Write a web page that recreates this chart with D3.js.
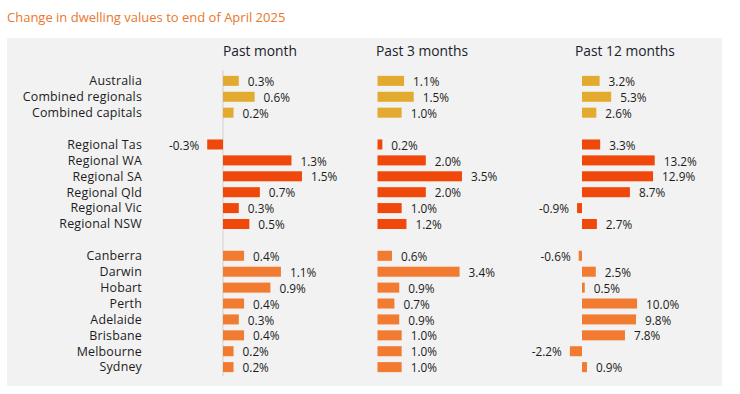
<!DOCTYPE html>
<html>
<head>
<meta charset="utf-8">
<script src="https://cdn.jsdelivr.net/npm/d3@7"></script>
<style>
  body { margin: 0; background: #fff; }
  svg text { font-family: "Open Sans", "Noto Sans", sans-serif; }
</style>
</head>
<body>
<svg id="chart" width="740" height="394"></svg>
<script>
// rows, null = blank spacer between groups
var categories = ["Australia", "Combined regionals", "Combined capitals", null,
  "Regional Tas", "Regional WA", "Regional SA", "Regional Qld", "Regional Vic", "Regional NSW", null,
  "Canberra", "Darwin", "Hobart", "Perth", "Adelaide", "Brisbane", "Melbourne", "Sydney"];
var groups = ["summary", "summary", "summary", null,
  "regional", "regional", "regional", "regional", "regional", "regional", null,
  "capital", "capital", "capital", "capital", "capital", "capital", "capital", "capital"];

var pastMonth = [0.3, 0.6, 0.2, null, -0.3, 1.3, 1.5, 0.7, 0.3, 0.5, null,
  0.4, 1.1, 0.9, 0.4, 0.3, 0.4, 0.2, 0.2];
var past3Months = [1.1, 1.5, 1.0, null, 0.2, 2.0, 3.5, 2.0, 1.0, 1.2, null,
  0.6, 3.4, 0.9, 0.7, 0.9, 1.0, 1.0, 1.0];
var past12Months = [3.2, 5.3, 2.6, null, 3.3, 13.2, 12.9, 8.7, -0.9, 2.7, null,
  -0.6, 2.5, 0.5, 10.0, 9.8, 7.8, -2.2, 0.9];

var panelTitles = ["Past month", "Past 3 months", "Past 12 months"];

document.addEventListener("DOMContentLoaded", function () {

  var svg = d3.select("#chart");
  var colour = { summary: "#e2ab2f", regional: "#f0480b", capital: "#f07b31" };

  var yScale = d3.scaleBand()
    .domain(d3.range(categories.length))
    .range([73, 375])
    .paddingInner(0.37)
    .paddingOuter(0.18);

  // title
  svg.append("text")
    .attr("x", 7)
    .attr("y", 22)
    .style("font-size", "13px")
    .style("fill", "#e9772d")
    .text("Change in dwelling values to end of April 2025");

  // panel background
  svg.append("rect")
    .attr("x", 7)
    .attr("y", 38)
    .attr("width", 715)
    .attr("height", 348)
    .style("fill", "#f2f2f2");

  // category labels
  svg.append("g")
    .selectAll("text")
    .data(categories)
    .enter()
    .filter(function (d) { return d !== null; })
    .append("text")
    .attr("x", 142)
    .attr("y", function (d) { return yScale(categories.indexOf(d)) + yScale.bandwidth() / 2; })
    .attr("dy", "0.35em")
    .attr("text-anchor", "end")
    .style("font-size", "12.4px")
    .style("letter-spacing", "0.2px")
    .style("fill", "#1c1c1c")
    .text(function (d) { return d; });

  var panels = [
    { title: panelTitles[0], values: pastMonth, titleX: 223,
      x: d3.scaleLinear().domain([0, 1.5]).range([223, 302]), zeroLine: true },
    { title: panelTitles[1], values: past3Months, titleX: 376,
      x: d3.scaleLinear().domain([0, 3.5]).range([377.5, 462]), zeroLine: false },
    { title: panelTitles[2], values: past12Months, titleX: 575,
      x: d3.scaleLinear().domain([0, 13.2]).range([582, 654.7]), zeroLine: false }
  ];

  panels.forEach(function (p) {
    var g = svg.append("g");

    g.append("text")
      .attr("x", p.titleX)
      .attr("y", 56)
      .style("font-size", "13.8px")
      .style("fill", "#1b1d2b")
      .text(p.title);

    if (p.zeroLine) {
      g.append("line")
        .attr("x1", p.x(0))
        .attr("x2", p.x(0))
        .attr("y1", 70)
        .attr("y2", 376)
        .style("stroke", "#cfcfcf")
        .style("stroke-width", "1px");
    }

    var rows = p.values.map(function (v, i) { return { v: v, i: i }; })
      .filter(function (d) { return d.v !== null; });

    g.selectAll("rect.bar")
      .data(rows)
      .enter()
      .append("rect")
      .attr("class", "bar")
      .attr("x", function (d) { return Math.min(p.x(0), p.x(d.v)); })
      .attr("y", function (d) { return yScale(d.i); })
      .attr("width", function (d) { return Math.abs(p.x(d.v) - p.x(0)); })
      .attr("height", yScale.bandwidth())
      .style("fill", function (d) { return colour[groups[d.i]]; });

    g.selectAll("text.val")
      .data(rows)
      .enter()
      .append("text")
      .attr("class", "val")
      .attr("x", function (d) { return d.v < 0 ? p.x(d.v) - 8 : p.x(d.v) + 9; })
      .attr("y", function (d) { return yScale(d.i) + yScale.bandwidth() / 2 + 1; })
      .attr("dy", "0.35em")
      .attr("text-anchor", function (d) { return d.v < 0 ? "end" : "start"; })
      .style("font-size", "11.8px")
      .style("fill", "#1c1c1c")
      .text(function (d) { return d3.format(".1f")(d.v).replace("−", "-") + "%"; });
  });

});
</script>
</body>
</html>
